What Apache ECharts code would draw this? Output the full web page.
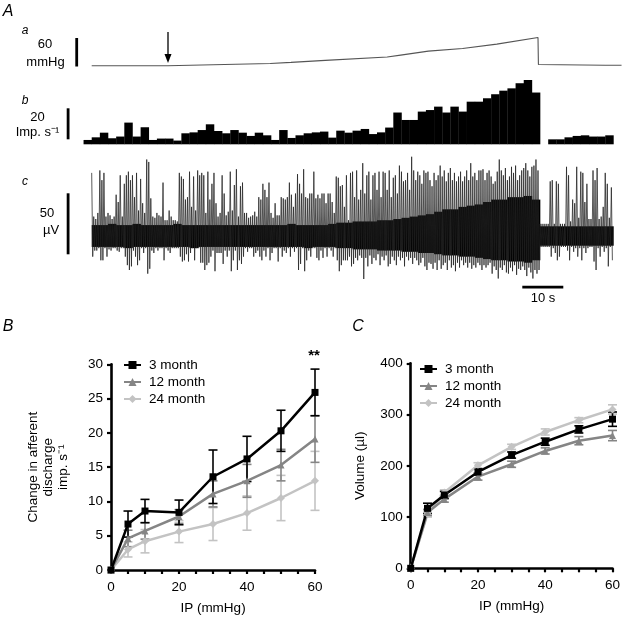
<!DOCTYPE html>
<html><head><meta charset="utf-8">
<script src="https://cdn.jsdelivr.net/npm/echarts@6/dist/echarts.min.js"></script>
<style>html,body{margin:0;padding:0;background:#fff}#c{width:623px;height:618px}</style>
</head><body><div id="c"></div>
<script>
// ---------- Panel A data ----------
// a: intraluminal pressure (time s, mmHg)
const pressureTime  = [0, 18.6, 43.8, 48.9, 57.3, 72.5, 75.8, 82.6, 91, 99.4, 109.5, 109.6, 126, 130];
const pressureValue = [0, 0, 4.9, 7.1, 11.3, 18.4, 22.6, 31.1, 36.7, 45.9, 60, 2.5, 1.2, 1.0];
// b: firing frequency histogram, 2 s bins starting at t = -2 s (imp/s)
const histStart = -2, histBin = 2;
const histValues = [2.8,4.5,7.5,3.9,5,14,5,11,2.8,3.7, 3.7,2.4,7.1,7.7,9.2,12.9,8.6,7.1,9.2,7.5,
  5.4,7.5,5.8,2.8,9.2,4.1,5.8,7.1,7.7,8.2, 4.3,8.8,7.5,8.8,9.9,6.6,7.7,10.8,20.5,15.7,
  15.7,21.1,22.1,24.3,20.5,24.3,21.1,27.5,27.5,29.7, 32.3,34.6,36.1,39.4,41.5,33.4,
  0, 3.2,3.2,4.5,5.4,5.8,5,5,5.8];
// c: raw nerve trace, per 0.5 s: largest upward / downward excursion (µV)
const traceStep = 0.5;
const traceUp = [52,16,14,19,54,46,52,16,19,17, 14,16,34,28,50,16,43,50,53,46,
  50,32,52,21,47,27,19,63,61,31, 16,15,19,17,16,44,13,13,21,16,
  13,13,12,52,49,47,30,32,53,24, 49,21,54,50,52,50,19,53,30,43,
  52,27,16,19,50,35,17,20,53,21, 42,55,16,41,44,19,19,15,16,17,
  20,16,32,30,43,38,32,44,19,15, 27,17,17,32,31,30,32,44,34,24,
  35,51,43,35,55,32,31,35,35,53, 31,34,31,35,35,27,35,35,28,19,
  49,48,41,42,24,50,13,52,53,32, 54,30,38,60,35,50,53,30,50,52,
  38,53,32,53,52,38,54,32,48,50, 35,58,53,45,46,52,38,67,54,46,
  53,50,43,54,52,53,46,41,52,46, 50,58,49,54,45,52,56,46,52,45,
  49,53,45,49,54,46,60,49,52,46, 54,54,55,46,52,54,49,43,45,53,
  63,54,50,56,46,49,57,52,58,46, 50,54,56,60,54,49,57,58,63,54,
  10,10,10,10,10,45,46,10,45,43, 10,10,10,57,50,12,30,27,57,15,
  53,52,28,43,14,14,54,46,56,14, 16,24,52,43,15,40];
const traceDown = [-17,-12,-12,-10,-20,-20,-10,-17,-11,-12, -10,-10,-12,-13,-10,-10,-17,-24,-28,-25,
  -12,-17,-24,-20,-10,-14,-10,-31,-27,-12, -14,-10,-12,-10,-10,-20,-10,-12,-14,-10,
  -10,-10,-10,-17,-21,-20,-15,-21,-14,-10, -20,-10,-10,-22,-22,-28,-24,-22,-17,-12,
  -29,-14,-14,-14,-23,-12,-17,-12,-29,-20, -12,-28,-20,-23,-17,-10,-13,-10,-10,-17,
  -14,-12,-17,-20,-12,-17,-10,-20,-14,-10, -10,-21,-10,-17,-12,-14,-10,-17,-10,-13,
  -10,-28,-23,-10,-29,-20,-12,-17,-10,-10, -18,-20,-12,-18,-10,-17,-10,-12,-17,-10,
  -20,-29,-24,-20,-20,-20,-17,-25,-23,-18, -20,-16,-18,-36,-18,-25,-16,-23,-18,-20,
  -15,-24,-17,-20,-16,-25,-23,-17,-20,-24, -17,-20,-18,-25,-17,-20,-18,-23,-18,-20,
  -24,-22,-18,-25,-28,-22,-23,-27,-22,-28, -20,-27,-24,-22,-28,-20,-26,-24,-29,-22,
  -26,-20,-24,-22,-26,-22,-27,-24,-26,-22, -24,-28,-24,-26,-24,-22,-31,-25,-28,-35,
  -26,-28,-24,-30,-31,-26,-29,-24,-32,-27, -28,-25,-28,-33,-26,-30,-35,-28,-31,-28,
  -9,-9,-9,-9,-9,-17,-10,-14,-20,-17, -9,-9,-9,-12,-20,-9,-13,-10,-17,-10,
  -20,-10,-14,-10,-9,-9,-21,-28,-10,-17, -9,-13,-10,-25,-9,-20];
// dense background noise band, per 2 s (µV)
const bandStep = 2;
const bandHi = [9,9,10,9,9,10,9,9,9,9, 10,9,9,9,9,9,9,9,9,9, 9,9,9,9,10,9,9,9,9,10,
  11,11,12,12,12,13,13,14, 15,16,17,18, 20,22,22,24,25,26, 28,30,30,32,32,33,30,
  8,8,8,8,8,8,8,8,8];
const bandLo = [-9,-9,-9,-9,-10,-9,-9,-9,-9,-9, -9,-9,-10,-9,-9,-9,-9,-9,-9,-9, -9,-9,-9,-9,-9,-9,-10,-9,-9,-9,
  -10,-10,-11,-11,-11,-12,-12,-12, -13,-13,-14,-14, -15,-16,-16,-17,-17,-18, -19,-20,-20,-21,-21,-22,-20,
  -8,-8,-8,-8,-8,-8,-8,-8,-8];

// ---------- Panels B and C data ----------
const ipLevels = [0, 5, 10, 20, 30, 40, 50, 60];
const groups = ['3 month', '12 month', '24 month'];
const dischargeMean = {
  '3 month':  [0, 6.7, 8.6, 8.4, 13.6, 16.2, 20.3, 25.9],
  '12 month': [0, 4.6, 5.7, 7.8, 11.1, 13.0, 15.3, 19.1],
  '24 month': [0, 3.0, 4.2, 5.6, 6.7, 8.3, 10.5, 13.0]
};
const dischargeSem = {
  '3 month':  [0, 1.9, 1.7, 1.8, 3.9, 3.3, 3.0, 3.4],
  '12 month': [0, 1.2, 1.2, 1.0, 1.9, 2.4, 2.3, 3.4],
  '24 month': [0, 1.1, 1.7, 1.6, 2.4, 2.5, 3.3, 4.3]
};
const volumeMean = {
  '3 month':  [0, 117, 143, 188, 221, 247, 271, 291],
  '12 month': [0, 109, 135, 179, 203, 229, 249, 259],
  '24 month': [0, 106, 148, 201, 237, 266, 289, 310]
};
const volumeSem = {
  '3 month':  [0, 10, 7, 6, 6, 7, 7, 14],
  '12 month': [0, 6, 6, 7, 6, 6, 8, 10],
  '24 month': [0, 6, 5, 5, 5, 6, 5, 9]
};
const dischargeTicks = [0, 5, 10, 15, 20, 25, 30];
const volumeTicks = [0, 100, 200, 300, 400];
const ipTickLabels = [0, 20, 40, 60];

// ---------- styling ----------
const FONT = '"Liberation Sans", Arial, Helvetica, sans-serif';
const groupStyle = {
  '3 month':  {color: '#000000', symbol: 'rect', size: 7},
  '12 month': {color: '#858585', symbol: 'triangle', size: 7},
  '24 month': {color: '#c3c3c3', symbol: 'diamond', size: 8}
};
const drawOrder = ['24 month', '12 month', '3 month'];

const chart = echarts.init(document.getElementById('c'), null, {renderer: 'canvas'});

const A_LEFT = 83.55, A_WIDTH = 538, T_MIN = -2, T_MAX = 130;
const grids = [
  {left: A_LEFT, width: A_WIDTH, top: 35.1, height: 33},        // 0 pressure
  {left: A_LEFT, width: A_WIDTH, top: 74.55, height: 69.75},    // 1 histogram
  {left: A_LEFT, width: A_WIDTH, top: 157.1, height: 121.4},    // 2 nerve trace
  {left: 111, width: 204, top: 364.3, height: 205.7},           // 3 panel B
  {left: 410.7, width: 205.3, top: 363.3, height: 205}          // 4 panel C
];

const hiddenX = i => ({gridIndex: i, type: 'value', min: T_MIN, max: T_MAX, show: false});
const axisCommon = {
  axisLine: {show: true, onZero: false, lineStyle: {color: '#000', width: 2.6}},
  axisTick: {show: true, length: 4, lineStyle: {color: '#000', width: 2.2}},
  splitLine: {show: false},
  axisLabel: {color: '#000', fontFamily: FONT, fontSize: 13.5}
};
const ipAxis = i => Object.assign({}, axisCommon, {
  gridIndex: i, type: 'value', min: 0, max: 60, interval: 5,
  name: 'IP (mmHg)', nameLocation: 'middle', nameGap: 31,
  nameTextStyle: {color: '#000', fontFamily: FONT, fontSize: 13.5},
  axisLabel: Object.assign({}, axisCommon.axisLabel, {margin: 10,
    formatter: v => ipTickLabels.indexOf(v) >= 0 ? String(v) : ''})
});

const xAxes = [hiddenX(0), hiddenX(1), hiddenX(2), ipAxis(3), ipAxis(4)];
const yAxes = [
  {gridIndex: 0, type: 'value', min: -5, max: 65, show: false},
  {gridIndex: 1, type: 'value', min: 0, max: 45, show: false},
  {gridIndex: 2, type: 'value', min: -35, max: 65, show: false},
  Object.assign({}, axisCommon, {gridIndex: 3, type: 'value', min: dischargeTicks[0],
    max: dischargeTicks[dischargeTicks.length - 1], interval: 5,
    name: 'Change in afferent\ndischarge\nimp. s\u207B\u00B9', nameLocation: 'middle', nameRotate: 90, nameGap: 40,
    nameTextStyle: {color: '#000', fontFamily: FONT, fontSize: 13.5, lineHeight: 15},
    axisLabel: Object.assign({}, axisCommon.axisLabel, {margin: 8})}),
  Object.assign({}, axisCommon, {gridIndex: 4, type: 'value', min: volumeTicks[0],
    max: volumeTicks[volumeTicks.length - 1], interval: 100,
    name: 'Volume (\u00B5l)', nameLocation: 'middle', nameRotate: 90, nameGap: 43,
    nameTextStyle: {color: '#000', fontFamily: FONT, fontSize: 13.5},
    axisLabel: Object.assign({}, axisCommon.axisLabel, {margin: 8})})
];

// build series
const series = [];
// a: pressure
series.push({type: 'line', xAxisIndex: 0, yAxisIndex: 0, symbol: 'none', silent: true,
  lineStyle: {color: '#555', width: 1.1}, data: pressureTime.map((t, i) => [t, pressureValue[i]])});
// b: histogram bars
series.push({type: 'custom', xAxisIndex: 1, yAxisIndex: 1, silent: true,
  data: histValues.map((v, i) => [histStart + i * histBin, v]),
  renderItem: (params, api) => {
    const t = api.value(0), v = api.value(1);
    if (!v) return null;
    const p0 = api.coord([t, 0]), p1 = api.coord([t + histBin, v]);
    return {type: 'rect', shape: {x: p0[0], y: p1[1], width: p1[0] - p0[0] + 0.3, height: p0[1] - p1[1]},
      style: {fill: '#000'}};
  }});
// c: noise band
series.push({type: 'custom', xAxisIndex: 2, yAxisIndex: 2, silent: true,
  data: bandHi.map((v, i) => [i * bandStep, v, bandLo[i]]),
  renderItem: (params, api) => {
    const t = api.value(0);
    const p0 = api.coord([t, api.value(1)]), p1 = api.coord([t + bandStep, api.value(2)]);
    return {type: 'rect', shape: {x: p0[0], y: p0[1], width: p1[0] - p0[0] + 0.3, height: p1[1] - p0[1]},
      style: {fill: '#000'}};
  }});
// c: spikes (zig-zag between up/down excursions)
const traceData = [];
traceUp.forEach((u, i) => {
  traceData.push([i * traceStep, u]);
  traceData.push([i * traceStep + traceStep / 2, traceDown[i]]);
});
series.push({type: 'line', xAxisIndex: 2, yAxisIndex: 2, symbol: 'none', silent: true,
  lineStyle: {color: '#222', width: 0.75}, data: traceData});

// B and C
function addPanel(axisIdx, means, sems) {
  drawOrder.forEach(g => {
    const st = groupStyle[g];
    series.push({type: 'custom', xAxisIndex: axisIdx, yAxisIndex: axisIdx, silent: true, z: 3,
      data: ipLevels.map((x, i) => [x, means[g][i], sems[g][i]]),
      renderItem: (params, api) => {
        const x = api.value(0), y = api.value(1), e = api.value(2);
        if (!e) return null;
        const top = api.coord([x, y + e]), bot = api.coord([x, y - e]);
        const cap = 4.5;
        const ls = {stroke: st.color, lineWidth: 1.6};
        return {type: 'group', children: [
          {type: 'line', shape: {x1: top[0], y1: top[1], x2: bot[0], y2: bot[1]}, style: ls},
          {type: 'line', shape: {x1: top[0] - cap, y1: top[1], x2: top[0] + cap, y2: top[1]}, style: ls},
          {type: 'line', shape: {x1: bot[0] - cap, y1: bot[1], x2: bot[0] + cap, y2: bot[1]}, style: ls}
        ]};
      }});
    series.push({type: 'line', name: g, xAxisIndex: axisIdx, yAxisIndex: axisIdx, z: 4,
      symbol: st.symbol, symbolSize: st.size, showAllSymbol: true,
      lineStyle: {color: st.color, width: 2.5}, itemStyle: {color: st.color},
      data: ipLevels.map((x, i) => [x, means[g][i]])});
  });
}
addPanel(3, dischargeMean, dischargeSem);
addPanel(4, volumeMean, volumeSem);

const legendCommon = {orient: 'vertical', itemWidth: 17, itemHeight: 10, itemGap: 3, padding: 0,
  textStyle: {color: '#000', fontFamily: FONT, fontSize: 13.5, padding: [0, 0, 0, 3]},
  selectedMode: false, data: groups};

const txt = (x, y, s, opt) => ({type: 'text', x: x, y: y, style: Object.assign({text: s, fill: '#000',
  font: '13px ' + FONT, textAlign: 'center', textVerticalAlign: 'middle'}, opt || {})});

chart.setOption({
  animation: false,
  backgroundColor: '#fff',
  grid: grids,
  xAxis: xAxes,
  yAxis: yAxes,
  legend: [
    Object.assign({}, legendCommon, {left: 123, top: 358}),
    Object.assign({}, legendCommon, {left: 419, top: 362})
  ],
  series: series,
  graphic: [
    txt(8, 12, 'A', {font: 'italic 16px ' + FONT}),
    txt(25, 31, 'a', {font: 'italic 12px ' + FONT}),
    txt(25, 101, 'b', {font: 'italic 12px ' + FONT}),
    txt(25, 182, 'c', {font: 'italic 12px ' + FONT}),
    txt(8, 327, 'B', {font: 'italic 16px ' + FONT}),
    txt(358, 327, 'C', {font: 'italic 16px ' + FONT}),
    txt(45, 44, '60'), txt(45.5, 62, 'mmHg'),
    txt(37.5, 117, '20'), txt(37.5, 132, 'Imp. s\u207B\u00B9'),
    txt(47, 213, '50'), txt(51, 230, '\u00B5V'),
    txt(543, 298, '10 s'),
    txt(314, 356, '**', {font: 'bold 15px ' + FONT}),
    {type: 'rect', shape: {x: 75.3, y: 38, width: 2.8, height: 28.5}, style: {fill: '#000'}},
    {type: 'rect', shape: {x: 66.7, y: 108.3, width: 2.8, height: 31}, style: {fill: '#000'}},
    {type: 'rect', shape: {x: 66.7, y: 193.3, width: 2.8, height: 61}, style: {fill: '#000'}},
    {type: 'rect', shape: {x: 522.3, y: 285.8, width: 41, height: 2.8}, style: {fill: '#000'}},
    {type: 'line', shape: {x1: 168, y1: 32, x2: 168, y2: 56}, style: {stroke: '#000', lineWidth: 1.3}},
    {type: 'polygon', shape: {points: [[164.5, 54], [171.5, 54], [168, 63]]}, style: {fill: '#000'}}
  ]
});
</script></body></html>
